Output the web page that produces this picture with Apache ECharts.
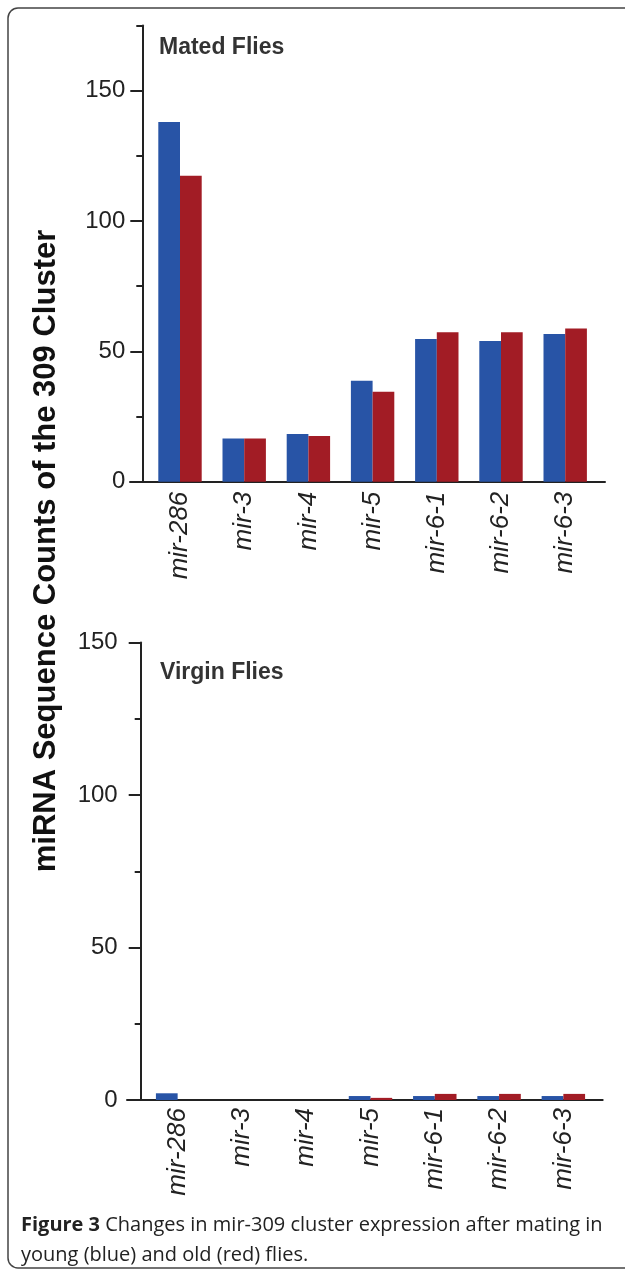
<!DOCTYPE html>
<html>
<head>
<meta charset="utf-8">
<script src="https://cdn.jsdelivr.net/npm/echarts@6/dist/echarts.min.js"></script>
<style>
html,body{margin:0;padding:0;background:#fff;}
#chart{width:625px;height:1271px;}
</style>
</head>
<body>
<div id="chart"></div>
<script>
// ---- data ----
var categories = ['mir-286', 'mir-3', 'mir-4', 'mir-5', 'mir-6-1', 'mir-6-2', 'mir-6-3'];
var matedYoung = [138, 16.6, 18.3, 38.7, 54.7, 54, 56.7];
var matedOld = [117.4, 16.6, 17.5, 34.5, 57.3, 57.3, 58.8];
var virginYoung = [2.2, 0, 0, 1.3, 1.3, 1.3, 1.3];
var virginOld = [0, 0, 0, 0.7, 2, 2, 2];
var majorTicks = [0, 50, 100, 150];
var matedMax = 175;
var virginMax = 150;
var panelTitles = ['Mated Flies', 'Virgin Flies'];
var yAxisTitle = 'miRNA Sequence Counts of the 309 Cluster';
var captionBold = 'Figure 3';
var captionRest = ' Changes in mir-309 cluster expression after mating in\nyoung (blue) and old (red) flies.';

var BLUE = '#2854a6';
var RED = '#a21c25';
var INK = '#222';
var FONT = '"Liberation Sans", Arial, sans-serif';

var chart = echarts.init(document.getElementById('chart'), null, {renderer: 'canvas'});

function majorY(gridIndex, max, offset, margin) {
  return {
    type: 'value', gridIndex: gridIndex, min: 0, max: max, interval: 25,
    position: 'left', offset: offset,
    axisLine: {show: true, lineStyle: {color: INK, width: 2}},
    axisTick: {show: true, length: 12, customValues: majorTicks, lineStyle: {color: INK, width: 2}},
    axisLabel: {show: true, customValues: majorTicks, margin: margin, color: INK, fontFamily: FONT, fontSize: 24},
    splitLine: {show: false}
  };
}
function minorY(gridIndex, max, offset) {
  return {
    type: 'value', gridIndex: gridIndex, min: 0, max: max, interval: 25,
    position: 'left', offset: offset,
    axisLine: {show: false},
    axisTick: {show: true, length: 6, lineStyle: {color: INK, width: 2}},
    axisLabel: {show: false},
    splitLine: {show: false}
  };
}
function catX(gridIndex, margin) {
  return {
    type: 'category', gridIndex: gridIndex, data: categories,
    axisLine: {show: false}, axisTick: {show: false},
    axisLabel: {show: true, rotate: 90, margin: margin, interval: 0, color: INK,
      fontFamily: FONT, fontStyle: 'italic', fontSize: 26}
  };
}
function lineX(gridIndex) {
  return {
    type: 'value', gridIndex: gridIndex, min: 0, max: 1,
    axisLine: {show: true, lineStyle: {color: INK, width: 2}},
    axisTick: {show: false}, axisLabel: {show: false}, splitLine: {show: false}
  };
}
function hiddenY(gridIndex) {
  return {type: 'value', gridIndex: gridIndex, min: 0, max: 1, show: false};
}
function barSeries(xi, yi, data, color) {
  return {
    type: 'bar', xAxisIndex: xi, yAxisIndex: yi, data: data,
    barGap: '0%', barCategoryGap: '32.4%',
    itemStyle: {color: color}, silent: true, animation: false
  };
}

var option = {
  animation: false,
  backgroundColor: '#fff',
  grid: [
    {left: 147.9, top: 25.5, width: 449.4, height: 456.2},
    {left: 145.5, top: 642.5, width: 450, height: 457.5},
    {left: 130, top: 470, width: 475, height: 11.7},
    {left: 127, top: 1090, width: 475.7, height: 10}
  ],
  xAxis: [catX(0, 10), catX(1, 8), lineX(2), lineX(3)],
  yAxis: [
    majorY(0, matedMax, 5.6, 17),
    minorY(0, matedMax, 5.6),
    majorY(1, virginMax, 4.8, 23),
    minorY(1, virginMax, 4.8),
    hiddenY(2),
    hiddenY(3)
  ],
  series: [
    barSeries(0, 0, matedYoung, BLUE),
    barSeries(0, 0, matedOld, RED),
    barSeries(1, 2, virginYoung, BLUE),
    barSeries(1, 2, virginOld, RED)
  ],
  graphic: [
    {type: 'rect', shape: {x: 8, y: 8, width: 660, height: 1260, r: 10},
      style: {fill: 'none', stroke: '#444', lineWidth: 1.5}, silent: true},
    {type: 'text', x: 159, y: 48,
      style: {text: panelTitles[0], font: 'bold 23px ' + FONT, fill: '#333', verticalAlign: 'middle'}},
    {type: 'text', x: 160, y: 673,
      style: {text: panelTitles[1], font: 'bold 23px ' + FONT, fill: '#333', verticalAlign: 'middle'}},
    {type: 'text', x: 46, y: 551, rotation: Math.PI / 2,
      style: {text: yAxisTitle, font: 'bold 31px ' + FONT, fill: '#111', align: 'center', verticalAlign: 'middle'}},
    {type: 'text', x: 21, y: 1210,
      style: {
        text: '{b|' + captionBold + '}' + captionRest,
        font: '20px "Open Sans", sans-serif', fill: '#222', lineHeight: 30,
        rich: {b: {font: 'bold 20px "Open Sans", sans-serif', fill: '#222', lineHeight: 30}}
      }}
  ]
};
chart.setOption(option);
</script>
</body>
</html>
